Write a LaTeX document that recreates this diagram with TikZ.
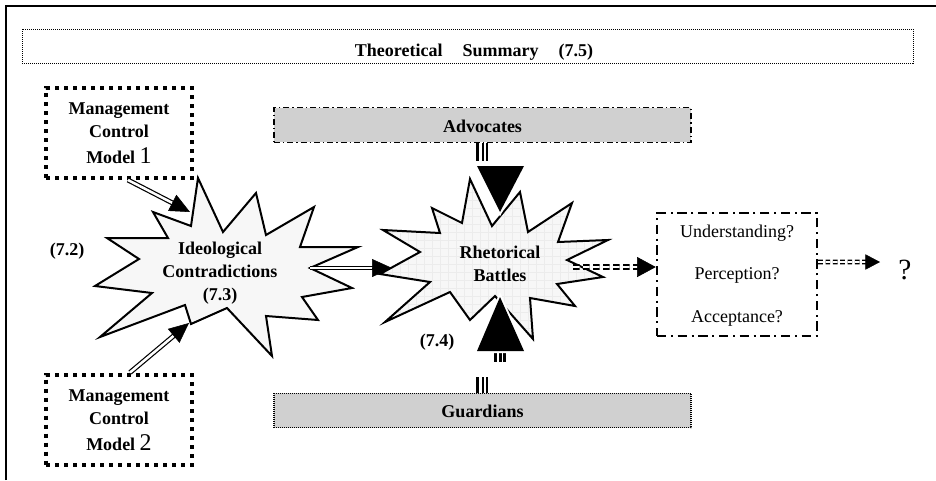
\documentclass[tikz,border=0pt]{standalone}
\usepackage{fontspec}
\setmainfont{Liberation Serif}
\usetikzlibrary{arrows.meta,calc}

\definecolor{actorgray}{RGB}{208,208,208}
\definecolor{starfill}{RGB}{247,247,247}
\definecolor{gridgray}{RGB}{236,236,236}

\tikzset{
  boldtext/.style={font=\fontsize{13.5}{17.25}\selectfont\bfseries, align=center, inner sep=0pt},
  plaintext/.style={font=\fontsize{13.5}{32}\selectfont, align=center, inner sep=0pt},
  modelbox/.style={draw, line width=3pt, dash pattern=on 3pt off 3.75pt,
    minimum width=109.5pt, minimum height=67.5pt, inner sep=0pt},
  summarybox/.style={draw, line width=0.75pt, dash pattern=on 0.75pt off 0.75pt,
    minimum width=668.25pt, minimum height=25.5pt, inner sep=0pt},
  actorbox/.style={fill=actorgray, minimum width=312.75pt, minimum height=26pt,
    inner sep=0pt, line width=0.9pt},
  advocatesline/.style={draw, dash pattern=on 4.5pt off 2.25pt on 1pt off 2.25pt},
  guardiansline/.style={draw, dash pattern=on 0.75pt off 0.75pt},
  questionbox/.style={draw, line width=1.8pt, dash pattern=on 7pt off 3.5pt on 1.5pt off 3.5pt,
    minimum width=120pt, minimum height=92.25pt, inner sep=0pt},
  starline/.style={draw, line width=1.5pt, fill=starfill, line join=miter},
  gridline/.style={draw=gridgray, line width=0.25pt},
  dblarrow/.style={double, line width=0.9pt, double distance=1.9pt, shorten >=14pt},
  dbltip/.style={-{Triangle[length=15pt,width=13.5pt]}, line width=0.4pt},
  dashdbl/.style={double, line width=1.5pt, double distance=1.3pt,
    dash pattern=on 5pt off 2.5pt, shorten >=13pt},
  dashtip/.style={-{Triangle[length=14pt,width=15pt]}, line width=0.4pt},
  smalldbl/.style={double, line width=1.2pt, double distance=1.2pt,
    dash pattern=on 3.5pt off 2pt, shorten >=10pt},
  smalltip/.style={-{Triangle[length=11pt,width=11.5pt]}, line width=0.4pt},
  barA/.style={line width=2.25pt},
  barB/.style={line width=1.8pt},
  headhalo/.style={draw=white, line width=3pt, line join=miter},
}

\begin{document}
\begin{tikzpicture}[x=0.75pt,y=-0.75pt]
\useasboundingbox (0,0) rectangle (936,480);

% page frame
\draw[line width=1.5pt] (6,480) -- (6,6) -- (936,6);

% summary banner
\node[summarybox] (sum) at (467.5,46) {};
\node[boldtext, anchor=base] (sumtext) at (474,56)
  {Theoretical\hspace{15pt}Summary\hspace{15pt}(7.5)};

% management control models
\node[modelbox] (m1) at (119,133) {};
\node[boldtext] (m1text) at (119,133.5)
  {Management\\Control\\[2pt]Model {\mdseries\fontsize{18}{18}\selectfont 1}};
\node[modelbox] (m2) at (119,419.5) {};
\node[boldtext] (m2text) at (119,420)
  {Management\\Control\\[2pt]Model {\mdseries\fontsize{18}{18}\selectfont 2}};

% actor bars
\node[actorbox, advocatesline] (adv) at (482.5,125) {};
\node[boldtext] (advtext) at (482.5,126) {Advocates};
\node[actorbox, guardiansline] (grd) at (482.5,410.5) {};
\node[boldtext] (grdtext) at (482.5,411) {Guardians};

% ideological contradictions burst
\draw[starline]
  (198,178) -- (191,226) -- (153,212) -- (168,238) -- (107,238) -- (139,259)
  -- (95,286) -- (152,293) -- (100,337) -- (185,305) -- (191,324) -- (227,308)
  -- (272,356) -- (266,316) -- (318,320) -- (302,297) -- (352,288) -- (310,268)
  -- (358,247) -- (300,247) -- (314,207) -- (266,235) -- (256,193) -- (223,232)
  -- cycle;
\node[boldtext] (ideo) at (220,273) {Ideological\\Contradictions\\(7.3)};

% rhetorical battles burst
\draw[starline, path picture={
    \draw[gridline] (370,170) grid[xstep=6pt,ystep=6pt] (620,345);}]
  (470,179) -- (492,226) -- (520,192) -- (528,232) -- (572,203) -- (558,242)
  -- (608,240) -- (567,260) -- (603,277) -- (557,284) -- (575,306) -- (530,298)
  -- (533,339) -- (495,296) -- (470,320) -- (450,292) -- (385,322) -- (430,282)
  -- (380,274) -- (420,252) -- (383,230) -- (440,233) -- (432,208) -- (462,223)
  -- cycle;
\node[boldtext] (rhet) at (500,264) {Rhetorical\\Battles};

% section labels
\node[boldtext] (l72) at (67,251) {(7.2)};
\node[boldtext] (l74) at (437,342) {(7.4)};

% outcome box
\node[questionbox] (qbox) at (737,274.5) {};
\node[plaintext] (qtext) at (737,275.5) {Understanding?\\Perception?\\Acceptance?};
\node[font=\fontsize{22}{22}\selectfont, inner sep=0pt, anchor=base] (qm) at (905,279) {?};

% arrow end points on the bursts
\coordinate (ideoIn1) at (190,212);
\coordinate (ideoIn2) at (189,323);
\coordinate (ideoOut) at (310,268);
\coordinate (rhetIn) at (392,268);
\coordinate (rhetOut) at (573,267);
\coordinate (advTip) at (500,212);
\coordinate (grdTip) at (500,297);
\coordinate (qIn) at ([yshift=5.6pt]qbox.west);
\coordinate (qOut) at ([yshift=9.4pt]qbox.east);
\coordinate (qEnd) at (880,262);

% models into the contradictions
\coordinate (m1out) at ([xshift=6.75pt]m1.south);
\coordinate (m2out) at ([xshift=8.25pt]m2.north);
\draw[dblarrow] (m1out) -- (ideoIn1);
\draw[dbltip] ($(ideoIn1)!15pt!(m1out)$) -- (ideoIn1);
\draw[dblarrow] (m2out) -- (ideoIn2);
\draw[dbltip] ($(ideoIn2)!15pt!(m2out)$) -- (ideoIn2);

% contradictions into the battles
\draw[dblarrow] (ideoOut) -- (rhetIn);
\draw[dbltip] ($(rhetIn)!15pt!(ideoOut)$) -- (rhetIn);

% advocates push down
\draw[barA] ([xshift=-3.4pt]adv.south) -- ++(0,18);
\draw[barB] ([xshift=0.2pt]adv.south) -- ++(0,18);
\draw[barB] ([xshift=3.2pt]adv.south) -- ++(0,18);
\draw[headhalo] (477,166) -- (524,166) -- (advTip) -- cycle;
\fill (477,166) -- (524,166) -- (advTip) -- cycle;

% guardians push up
\draw[barA] ([xshift=-3.4pt]grd.north) -- ++(0,-16);
\draw[barB] ([xshift=0.2pt]grd.north) -- ++(0,-16);
\draw[barB] ([xshift=3.2pt]grd.north) -- ++(0,-16);
\draw[barA] (495.5,351) -- (495.5,362);
\draw[barB] (500.3,351) -- (500.3,362);
\draw[barB] (504.3,351) -- (504.3,362);
\draw[headhalo] (477,351) -- (524,351) -- (grdTip) -- cycle;
\fill (477,351) -- (524,351) -- (grdTip) -- cycle;

% battles towards the outcomes
\draw[dashdbl] (rhetOut) -- (qIn);
\draw[dashtip] ($(qIn)!14pt!(rhetOut)$) -- (qIn);

% outcomes onwards
\draw[smalldbl] (qOut) -- (qEnd);
\draw[smalltip] ($(qEnd)!11pt!(qOut)$) -- (qEnd);

\end{tikzpicture}
\end{document}
